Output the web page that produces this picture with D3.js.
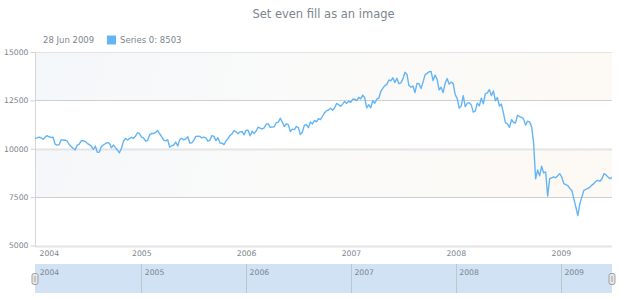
<!DOCTYPE html>
<html><head><meta charset="utf-8">
<script src="https://cdn.jsdelivr.net/npm/d3@7"></script>
<style>
body{margin:0;background:#fff}
svg{display:block}
text{font-family:"DejaVu Sans",Verdana,sans-serif}
</style>
</head><body>
<svg id="chart" width="620" height="300"></svg>
<script>
const chartTitle = "Set even fill as an image";
const seriesName = "Series 0";
const startDate = "2003-12-28";
const stepDays = 7;

const values2004 = [10540,10560,10600,10568,10488,10593,10680,10619,10584,10595,10240,10186,10212,10470,10442,10452,10400,10225,10117,10012,9940,10188,10242,10410,10416,10371,10282,10213,10140,9962,10139,9815,9825,10110,10195,10260,10314,10284,10047,10192,10055,9933,9790,10027,10387,10539,10456,10522,10592,10543,10650,10828,10783];
const values2005 = [10603,10558,10393,10427,10716,10796,10785,10841,10941,10774,10629,10442,10404,10462,10087,10157,10193,10345,10140,10471,10542,10460,10513,10623,10297,10303,10449,10640,10651,10641,10558,10600,10559,10397,10447,10679,10641,10419,10569,10292,10287,10215,10402,10530,10686,10766,10931,10877,10778,10875,10883,10718];
const values2006 = [10959,10960,10667,10907,10793,10919,11115,11062,11022,11076,11279,11280,11109,11120,11137,11347,11367,11577,11380,11144,11278,11247,10891,11015,10989,11150,11090,10739,10868,11219,11240,11088,11381,11284,11464,11392,11560,11508,11679,11850,11960,12002,12090,11986,12108,12342,12280,12194,12307,12445,12343,12463];
const values2007 = [12398,12556,12565,12487,12653,12581,12767,12647,12114,12276,12110,12481,12354,12560,12612,12962,13120,13264,13326,13556,13507,13668,13424,13639,13360,13408,13611,13950,13851,13265,13181,13239,12900,13378,13358,13113,13442,13820,13896,13980,14000,13522,13807,13595,13043,13177,12900,13372,13625,13339,13451,13366];
const values2008 = [12800,12606,12099,12207,12743,12182,12348,12381,12266,11893,11951,12361,12216,12609,12325,12849,12891,13058,12745,12986,12480,12638,12210,12307,11842,11346,11288,11100,11497,11370,11326,11734,11659,11628,11543,11220,11421,11388,11143,10325,8451,8900,8600,9100,8750,8800,7550,8450,8500,8550,8500,8600];
const values2009 = [8714,8540,8200,8150,8100,7950,7850,7420,7000,6550,7150,7500,7850,7900,7950,8020,8120,8200,8330,8370,8320,8450,8714,8650,8540,8455,8503];

const yTickValues = [5000, 7500, 10000, 12500, 15000];
const evenBands = [[12500, 15000], [7500, 10000]];
const yearLabels = ["2004", "2005", "2006", "2007", "2008", "2009"];

const values = [].concat(values2004, values2005, values2006, values2007, values2008, values2009);
const t0 = d3.utcParse("%Y-%m-%d")(startDate);
const data = values.map((v, i) => ({date: d3.utcDay.offset(t0, i * stepDays), value: v}));

const svg = d3.select("#chart");
const L = 35, R = 612, T = 52, B = 245.5;
const txt = "#7c868e";

const x = d3.scaleUtc().domain(d3.extent(data, d => d.date)).range([L, R]);
const y = d3.scaleLinear().domain([5000, 15000]).range([B, T]);
const yearDates = yearLabels.map(s => d3.utcParse("%Y")(s));

// gradient "image" fill
const defs = svg.append("defs");
const g = defs.append("linearGradient").attr("id", "evenFill")
  .attr("gradientUnits", "userSpaceOnUse")
  .attr("x1", L).attr("y1", T).attr("x2", R).attr("y2", B);
g.append("stop").attr("offset", "0%").attr("stop-color", "#f4f7fa");
g.append("stop").attr("offset", "45%").attr("stop-color", "#fafaf9");
g.append("stop").attr("offset", "100%").attr("stop-color", "#fdf9f4");

svg.append("g").selectAll("rect").data(evenBands).join("rect")
  .attr("x", L).attr("width", R - L)
  .attr("y", d => y(d[1])).attr("height", d => y(d[0]) - y(d[1]))
  .attr("fill", "url(#evenFill)");

// grid
svg.append("g").selectAll("line").data(yTickValues).join("line")
  .attr("x1", L).attr("x2", R)
  .attr("y1", d => Math.round(y(d)) + 0.5).attr("y2", d => Math.round(y(d)) + 0.5)
  .attr("stroke", d => (d === 12500 || d === 7500) ? "#cfcfcf" : "#e4e4e4")
  .attr("stroke-width", d => (d === 10000 || d === 5000) ? 2 : 1);

// y axis
const yAxis = svg.append("g").attr("transform", `translate(${L + 0.5},0)`)
  .call(d3.axisLeft(y).tickValues(yTickValues).tickSize(5).tickPadding(2).tickFormat(d3.format("d")));
yAxis.select(".domain").attr("stroke", "#d6d6d6").attr("d", `M0,${T}V${B}`);
yAxis.selectAll(".tick line").attr("stroke", "#d0d0d0");
yAxis.selectAll("text").attr("fill", txt).attr("font-size", "7.7px")
  .attr("font-family", '"DejaVu Sans",sans-serif');

// x axis
const xAxis = svg.append("g").attr("transform", `translate(0,${B})`)
  .call(d3.axisBottom(x).tickValues(yearDates).tickSize(0).tickPadding(5.5).tickFormat(d3.utcFormat("%Y")));
xAxis.select(".domain").remove();
xAxis.selectAll("text").attr("fill", txt).attr("font-size", "7.7px")
  .attr("font-family", '"DejaVu Sans",sans-serif')
  .each(function(d) {
    const w = this.getComputedTextLength();
    if (x(d) - w / 2 < L) d3.select(this).attr("text-anchor", "start").attr("x", L + 4 - x(d));
  });

// line
svg.append("path").datum(data)
  .attr("fill", "none").attr("stroke", "#64b5f6").attr("stroke-width", 1.4)
  .attr("stroke-linejoin", "round")
  .attr("d", d3.line().x(d => x(d.date)).y(d => y(d.value)));

// title
svg.append("text").attr("x", (L + R) / 2).attr("y", 18)
  .attr("text-anchor", "middle").attr("fill", txt).attr("font-size", "11.5px").text(chartTitle);

// legend
const last = data[data.length - 1];
svg.append("text").attr("x", 43).attr("y", 43).attr("fill", txt).attr("font-size", "8.5px")
  .text(d3.utcFormat("%d %b %Y")(last.date));
svg.append("rect").attr("x", 107).attr("y", 35.5).attr("width", 9).attr("height", 9).attr("fill", "#64b5f6");
svg.append("text").attr("x", 120).attr("y", 43).attr("fill", txt).attr("font-size", "8.5px")
  .text(`${seriesName}: ${last.value}`);

// scroller
const sTop = 264, sBot = 293;
svg.append("rect").attr("x", L).attr("y", sTop).attr("width", R - L).attr("height", sBot - sTop).attr("fill", "#d1e2f4");
const sc = svg.append("g");
sc.selectAll("line").data(yearDates.filter(d => x(d) > L + 3)).join("line")
  .attr("x1", d => Math.round(x(d)) + 0.5).attr("x2", d => Math.round(x(d)) + 0.5)
  .attr("y1", sTop).attr("y2", sBot).attr("stroke", "#bcc6d0");
sc.selectAll("text").data(yearDates).join("text")
  .attr("x", d => x(d) + 3.5).attr("y", 275).attr("fill", txt).attr("font-size", "7.7px")
  .text(d3.utcFormat("%Y"));
[L, R].forEach(hx => {
  svg.append("rect").attr("x", hx - 3).attr("y", 273.5).attr("width", 6).attr("height", 11)
    .attr("rx", 2).attr("fill", "#e6e6e6").attr("stroke", "#a0a0a0").attr("stroke-width", 1);
  svg.append("line").attr("x1", hx).attr("x2", hx).attr("y1", 276).attr("y2", 282)
    .attr("stroke", "#a0a0a0").attr("stroke-width", 1);
});
</script>
</body></html>
